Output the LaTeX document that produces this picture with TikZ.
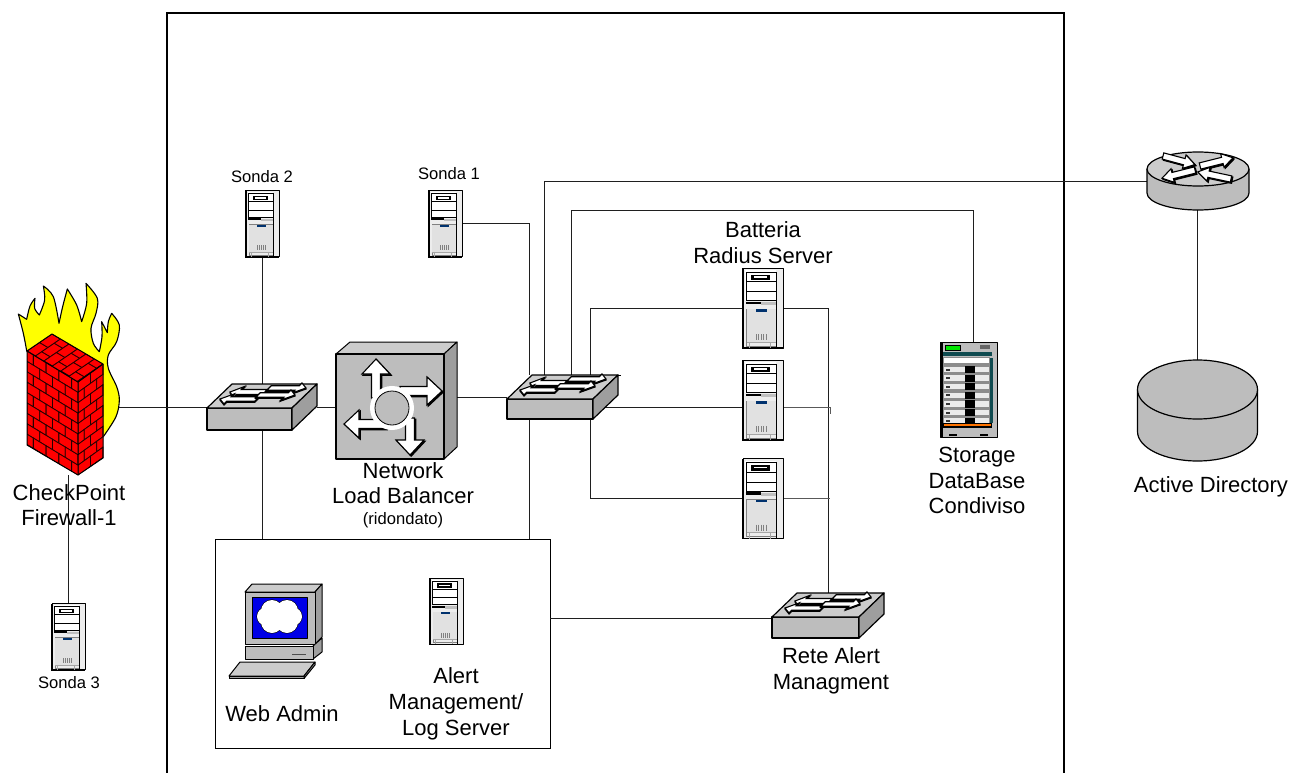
\documentclass[tikz,border=0pt]{standalone}
\usepackage{fontspec}
\setmainfont{Liberation Sans}
\usetikzlibrary{calc}
\definecolor{icongray}{gray}{0.74}
\definecolor{iconlight}{gray}{0.8}
\definecolor{icondark}{gray}{0.62}
\definecolor{srvlight}{gray}{0.93}
\definecolor{tealbar}{RGB}{15,75,80}
\definecolor{flameyellow}{RGB}{255,255,0}
\definecolor{scrblue}{RGB}{0,0,230}
\definecolor{connline}{gray}{0.12}
\definecolor{srvblue}{RGB}{0,50,110}
\tikzset{
  conn/.style={draw=connline,line width=0.85pt},
  iconbox/.style={anchor=north west,inner sep=0pt,outer sep=0pt},
  face/.style={draw=black,line width=1pt,line join=round},
  brick/.style={fill=red,draw=black!85!red,line width=0.8pt},
  bigtext/.style={font=\fontsize{22}{25.7}\selectfont,align=center,inner sep=0pt},
  smalltext/.style={font=\fontsize{16.6}{19}\selectfont,align=center,inner sep=0pt},
  wharrow/.style={fill=white,draw=black,line width=1.1pt,line join=miter},
  sharrow/.style={fill=black,draw=black,line width=1.1pt,line join=miter}
}
% arrow: x y angle length headhalf shafthalf headlen
\newcommand\iconarrow[7]{%
  \begin{scope}[shift={(#1+1.2,#2+1.2)},rotate=#3]
    \draw[sharrow] (0,-#6) -- ({#4-#7},-#6) -- ({#4-#7},-#5) -- (#4,0) -- ({#4-#7},#5) -- ({#4-#7},#6) -- (0,#6) -- cycle;
  \end{scope}
  \begin{scope}[shift={(#1,#2)},rotate=#3]
    \draw[wharrow] (0,-#6) -- ({#4-#7},-#6) -- ({#4-#7},-#5) -- (#4,0) -- ({#4-#7},#5) -- ({#4-#7},#6) -- (0,#6) -- cycle;
  \end{scope}}
% skewed arrow on a switch top: cx cy dir(1/-1) length halfheight
\newcommand\skewarrow[5]{%
  \begin{scope}[shift={(#1,#2+1)},xslant=1]
    \begin{scope}[xscale=#3]
      \draw[sharrow] (-#4/2,-#5*.45) -- (#4/2-9,-#5*.45) -- (#4/2-9,-#5) -- (#4/2,0) -- (#4/2-9,#5) -- (#4/2-9,#5*.45) -- (-#4/2,#5*.45) -- cycle;
    \end{scope}
  \end{scope}
  \begin{scope}[shift={(#1,#2)},xslant=1]
    \begin{scope}[xscale=#3]
      \draw[wharrow] (-#4/2,-#5*.45) -- (#4/2-9,-#5*.45) -- (#4/2-9,-#5) -- (#4/2,0) -- (#4/2-9,#5) -- (#4/2-9,#5*.45) -- (-#4/2,#5*.45) -- cycle;
    \end{scope}
  \end{scope}}
% switch: x1 x2 (front) ytop ybot, dx back, dy back
\newcommand\switchicon[6]{%
  \fill[iconlight] (#1,#3) -- (#1+#5,#3-#6) -- (#2+#5,#3-#6) -- (#2,#3) -- cycle;
  \draw[face,fill=icongray,line width=1.2pt] (#1,#3) rectangle (#2,#4);
  \draw[face,fill=iconlight,line width=1.2pt] (#1,#3) -- (#1+#5,#3-#6) -- (#2+#5,#3-#6) -- (#2,#3) -- cycle;
  \draw[face,fill=icondark,line width=1.2pt] (#2,#3) -- (#2+#5,#3-#6) -- (#2+#5,#4-#6) -- (#2,#4) -- cycle;
  \skewarrow{#1+40.5}{#3-16}{-1}{35}{5.5}
  \skewarrow{#1+80.5}{#3-20}{1}{37}{5}
  \skewarrow{#1+31.5}{#3-9}{-1}{37}{5}
  \skewarrow{#1+69.5}{#3-13}{1}{37}{5}
}
\newcommand\servericon[3]{%
  \begin{scope}[shift={(#1,#2)},scale=#3]
    \draw[face,fill=srvlight] (0,0) rectangle (40,80);
    \draw[black,line width=1.4pt] (0,0) -- (0,80) -- (40,80);
    \fill[white] (2,2) rectangle (33,33);
    \draw[black,line width=1pt] (3.5,4) rectangle (33,32.5);
    \draw[black,line width=.9pt] (3.5,13.5) -- (33,13.5) (3.5,23.5) -- (33,23.5);
    \fill[black] (8,6.5) rectangle (27,12);
    \fill[white] (11,8.2) rectangle (24,9.8);
    \fill[black] (3,33.5) rectangle (18,36);
    \fill[gray!50] (18,34) rectangle (33,37);
    \draw[gray,line width=.5pt] (3.5,41) rectangle (33,78);
    \fill[srvlight!95!black] (3.5,41) rectangle (33,74);
    \draw[black,line width=.8pt] (33,33) -- (33,80);
    \fill[srvblue] (13,41) rectangle (24,43.5);
    \foreach \vx in {13,15.5,...,23}{\draw[gray,line width=.5pt] (\vx,66) -- (\vx,72);}
    \draw[gray!70,line width=.7pt] (6,74) -- (6,80) (27,74) -- (27,80) (3.5,74) -- (33,74);
  \end{scope}}
\begin{document}
\begin{tikzpicture}[x=1pt,y=-1pt]
\useasboundingbox (0,0) rectangle (1291,773);
% layout holders
\node[iconbox,minimum width=101pt,minimum height=191pt] (fw) at (18,284) {};
\node[iconbox,minimum width=110pt,minimum height=46pt] (swA) at (207,384) {};
\node[iconbox,minimum width=111pt,minimum height=44pt] (swB) at (507,375) {};
\node[iconbox,minimum width=111pt,minimum height=45pt] (swC) at (772,593) {};
\node[iconbox,minimum width=121pt,minimum height=117pt] (lb) at (336,342) {};
\node[iconbox,minimum width=33pt,minimum height=66pt] (sonda2) at (246,190.5) {};
\node[iconbox,minimum width=33pt,minimum height=66pt] (sonda1) at (429,190.5) {};
\node[iconbox,minimum width=33pt,minimum height=66pt] (sonda3) at (52,603.5) {};
\node[iconbox,minimum width=40pt,minimum height=80pt] (srvA) at (743,268) {};
\node[iconbox,minimum width=40pt,minimum height=80pt] (srvB) at (743,360) {};
\node[iconbox,minimum width=40pt,minimum height=80pt] (srvC) at (743,458.5) {};
\node[iconbox,minimum width=57pt,minimum height=95pt] (stor) at (940,342) {};
\node[iconbox,minimum width=101pt,minimum height=58pt] (rt) at (1147,152) {};
\node[iconbox,minimum width=120pt,minimum height=101pt] (disk) at (1137.5,360) {};
\node[iconbox,draw=black,line width=.85pt,minimum width=335pt,minimum height=209pt] (abox) at (215,539) {};
% bend points
\coordinate (bRt) at (544,181);
\coordinate (bSt) at (571,210);
\coordinate (bStR) at (973,210);
\coordinate (bS1) at (529,223.5);
\coordinate (bA) at (590,308);
\coordinate (bAr) at (828,308);
\coordinate (bC) at (590,498);
\coordinate (bBr) at (830,407);
\coordinate (bBt) at (830,414);
\coordinate (bCr) at (830,498);
\coordinate (pLbA) at (457,397);
\coordinate (pBoxC) at (550,618);
\coordinate (pSwCb) at (772,618);
\coordinate (pSwBr) at (600,407);
\coordinate (pSrvB) at (743,407);
\coordinate (pSrvBr) at (783,407);
\coordinate (pSrvCr) at (783,498);
\coordinate (pFw) at (110,407);
% frame
\draw[black,line width=2pt] (167,773) -- (167,13) -- (1064,13) -- (1064,773);
% connectors
\draw[conn] (pFw) -- (swA.west);
\draw[conn] (swA.east) -- (swA.east -| lb.west);
\draw[conn] (sonda2.south -| swA.north) -- (swA.north);
\draw[conn] (swA.south) -- (swA.south |- abox.north);
\draw[conn] (pLbA) -- (swB.west);
\draw[conn] (sonda1.east |- bS1) -- (bS1) -- (bS1 |- swB.north);
\draw[conn] (bS1 |- swB.south) -- (bS1 |- abox.north);
\draw[conn] (rt.west) -- (bRt) -- (bRt |- swB.north);
\draw[conn] (stor.north -| bStR) -- (bStR) -- (bSt) -- (bSt |- swB.north);
\draw[conn] (srvA.west) -- (bA) -- (bA |- swB.north);
\draw[conn] (bA |- swB.south) -- (bC) -- (srvC.west |- bC);
\draw[conn] (pSwBr) -- (pSrvB);
\draw[conn] (srvA.east) -- (bAr) -- (bAr |- swC.north);
\draw[conn,draw=black!65] (pSrvBr) -- (bBr) -- (bBt);
\draw[conn,draw=black!65] (pSrvCr) -- (bCr);
\draw[conn] (pBoxC) -- (pSwCb);
\draw[conn] (rt.south -| disk.north) -- (disk.north);
\draw[conn] (fw.south) -- (sonda3.north);
% firewall flames
\begin{scope}[shift={(10,280)},scale=1/3]
  \draw[fill=flameyellow,draw=black,line width=1.1pt,line join=round]
   plot[smooth,tension=.55] coordinates {(50,212) (40,160) (25,102)}
   -- plot[smooth,tension=.55] coordinates {(25,102) (50,118)}
   -- plot[smooth,tension=.55] coordinates {(50,118) (60,78) (75,55)}
   -- plot[smooth,tension=.55] coordinates {(75,55) (74,85) (88,105)}
   -- plot[smooth,tension=.55] coordinates {(88,105) (104,60) (100,18)}
   -- plot[smooth,tension=.55] coordinates {(100,18) (130,50) (147,130)}
   -- plot[smooth,tension=.55] coordinates {(147,130) (158,80) (172,27)}
   -- plot[smooth,tension=.55] coordinates {(172,27) (200,75) (215,125)}
   -- plot[smooth,tension=.55] coordinates {(215,125) (230,70) (228,10)}
   -- plot[smooth,tension=.55] coordinates {(228,10) (262,55) (258,100) (243,145) (250,190) (268,215)}
   -- plot[smooth,tension=.55] coordinates {(268,215) (276,170) (275,125)}
   -- plot[smooth,tension=.55] coordinates {(275,125) (292,158)}
   -- plot[smooth,tension=.55] coordinates {(292,158) (295,125) (305,100)}
   -- plot[smooth,tension=.55] coordinates {(305,100) (328,135) (320,185) (295,225) (295,265) (320,320) (328,360) (318,410) (280,470)}
   -- (200,470) -- cycle;
\end{scope}
% firewall bricks: left face
\begin{scope}
  \clip (27,351) -- (78,382) -- (78,475) -- (27,445) -- cycle;
  \fill[red] (27,351) -- (78,382) -- (78,475) -- (27,445) -- cycle;
  \begin{scope}[shift={(27,351)},x={(12.75pt,-7.75pt)},y={(0pt,-10.4pt)}]
    \foreach \rr in {0,...,9}{
      \pgfmathsetmacro\off{mod(\rr,2)*0.5}
      \foreach \cc in {-1,...,4}{
        \draw[brick] ({\cc+\off-.5},\rr) -- ++(1,0) -- ++(0,1) -- ++(-1,0) -- cycle;
      }}
  \end{scope}
\end{scope}
% right face
\begin{scope}
  \clip (78,382) -- (103,364) -- (103,458) -- (78,475) -- cycle;
  \fill[red] (78,382) -- (103,364) -- (103,458) -- (78,475) -- cycle;
  \begin{scope}[shift={(78,382)},x={(12.5pt,9pt)},y={(0pt,-10.4pt)}]
    \foreach \rr in {0,...,9}{
      \pgfmathsetmacro\off{mod(\rr,2)*0.5}
      \foreach \cc in {-1,...,2}{
        \draw[brick] ({\cc+\off},\rr) -- ++(1,0) -- ++(0,1) -- ++(-1,0) -- cycle;
      }}
  \end{scope}
\end{scope}
% top face
\begin{scope}
  \clip (27,351) -- (52,334) -- (103,364) -- (78,382) -- cycle;
  \fill[red] (27,351) -- (52,334) -- (103,364) -- (78,382) -- cycle;
  \begin{scope}[shift={(27,351)},x={(8.5pt,-5pt)},y={(12.5pt,8.5pt)}]
    \foreach \cc in {0,...,6}{
      \pgfmathsetmacro\off{mod(\cc,2)*0.5}
      \foreach \rr in {-1,...,3}{
        \draw[brick] (\cc,{\rr+\off}) -- ++(1,0) -- ++(0,1) -- ++(-1,0) -- cycle;
      }}
  \end{scope}
\end{scope}
\draw[face] (27,351) -- (52,334) -- (103,364) -- (103,458) -- (78,475) -- (27,445) -- cycle;
\draw[face] (27,351) -- (78,382) -- (103,364) (78,382) -- (78,475);
% switches
\switchicon{207}{292}{408}{430}{25}{24}
\switchicon{507}{593}{399}{419}{25}{24}
\draw[black,line width=.8pt] (618,375) -- (621,375);
\switchicon{772}{859}{617}{638}{25}{24}
% load balancer
\draw[face,fill=iconlight] (336,354) -- (350,342) -- (457,342) -- (444,354) -- cycle;
\draw[face,fill=icondark] (444,354) -- (457,342) -- (457,447) -- (444,459) -- cycle;
\draw[face,fill=icongray,line width=1.2pt] (336,354) rectangle (444,459);
\iconarrow{376}{398}{90}{39}{14}{4.5}{15}
\iconarrow{400}{391}{0}{42}{14}{4.5}{15}
\iconarrow{386}{424}{180}{42}{14}{4.5}{15}
\iconarrow{410}{418}{-90}{37}{14}{4.5}{15}
\draw[draw=white,fill=icongray,line width=5pt] (392,408) circle (19.5);
\draw[black,line width=.8pt] (392,408) circle (17);
% servers
\servericon{246}{190.5}{.83}
\servericon{429}{190.5}{.83}
\servericon{52}{603.5}{.83}
\servericon{743}{268}{1}
\servericon{743}{360}{1}
\servericon{743}{458.5}{1}
\servericon{430}{578}{.83}
% storage
\draw[face,fill=icongray] (940,342) rectangle (997,437);
\fill[black] (940,342) rectangle (943,437);
\draw[black,line width=.7pt,fill=green!90!black] (945,345.5) rectangle (960,350);
\fill[black!60] (980,344.5) rectangle (990,349);
\fill[tealbar] (943,352) rectangle (992,356);
\fill[black!45] (943,357) rectangle (990,423);
\fill[tealbar] (990,358) rectangle (993,423);
\fill[white] (944,358) rectangle (989,363);
\foreach \rw in {0,...,6}{
  \fill[white!92!black] (944,{366.7+8.6*\rw}) rectangle (989,{372.2+8.6*\rw});
  \fill[black] (964.5,{366+8.6*\rw}) rectangle (975,{373.2+8.6*\rw});
  \fill[black!80] (946,{368.5+8.6*\rw}) rectangle (950,{370.5+8.6*\rw});
}
\fill[black] (943,422.5) rectangle (992,428);
\fill[orange!90!red] (944,423.5) rectangle (991,426);
\fill[black] (949,434) rectangle (957,436);
\fill[black] (980,434) rectangle (988,436);
% router
\draw[face,fill=icongray,line width=1.2pt] (1147,169) -- (1147,193) arc[start angle=180,end angle=0,x radius=51,y radius=17] -- (1249,169);
\draw[face,fill=iconlight,line width=1.2pt] (1198,169) ellipse [x radius=51,y radius=17];
\iconarrow{1163}{156}{-15}{33}{7}{3.2}{11}
\iconarrow{1200}{166}{14}{34}{7}{3.2}{11}
\iconarrow{1195}{170}{194}{34}{7}{3.2}{11}
\iconarrow{1231}{179}{168}{34}{7}{3.2}{11}
% disk
\draw[face,fill=icongray,line width=1.2pt] (1137.5,389.5) -- (1137.5,431.5) arc[start angle=180,end angle=0,x radius=60,y radius=29.5] -- (1257.5,389.5);
\draw[face,fill=icongray,line width=1.2pt] (1197.5,389.5) ellipse [x radius=60,y radius=29.5];
% computer
\draw[face,fill=iconlight] (245,592) -- (252,584) -- (322,584) -- (315,592) -- cycle;
\draw[face,fill=icondark] (315,592) -- (322,584) -- (322,637) -- (315,644) -- cycle;
\draw[face,fill=icongray] (245,592) rectangle (315,644);
\draw[face,fill=scrblue] (252,597) rectangle (307,638);
\foreach \cx/\cy/\cw in {272/611/11,287/611/11,272/622/11,287/622/11,266/616.5/9,293/616.5/9}{
  \draw[black,line width=1.1pt] (\cx,\cy) circle (\cw);}
\foreach \cx/\cy/\cw in {272/611/11,287/611/11,272/622/11,287/622/11,266/616.5/9,293/616.5/9}{
  \fill[white] (\cx,\cy) circle (\cw);}
\draw[face,fill=icondark] (313,646) -- (322,638) -- (322,652) -- (313,659) -- cycle;
\draw[face,fill=icongray] (245,646) rectangle (313,659);
\draw[black!70,line width=1pt] (292,654) -- (306,654);
\draw[face,fill=iconlight] (240,662) -- (315,662) -- (304,676) -- (229,676) -- cycle;
\draw[face,fill=icondark] (229,676) -- (304,676) -- (304,678.5) -- (229,678.5) -- cycle;
\draw[face,fill=icondark] (304,676) -- (315,662) -- (315,665) -- (304,678.5) -- cycle;
% labels
\node[smalltext] (tS2) at (262,177) {Sonda 2};
\node[smalltext] (tS1) at (449,173.5) {Sonda 1};
\node[smalltext] (tS3) at (69,682.5) {Sonda 3};
\node[smalltext] (tRid) at (403,520) {(ridondato)};
\node[bigtext] (tFw) at (69,505) {CheckPoint\\Firewall-1};
\node[bigtext] (tLb) at (403,483) {Network\\Load Balancer};
\node[bigtext] (tBat) at (763,242.5) {Batteria\\Radius Server};
\node[bigtext] (tSt) at (977,480.5) {Storage\\DataBase\\Condiviso};
\node[bigtext] (tAd) at (1211,487) {Active Directory};
\node[bigtext] (tWeb) at (282,714) {Web Admin};
\node[bigtext] (tAl) at (456,704) {Alert\\Management/\\Log Server};
\node[bigtext] (tRe) at (831,671) {Rete Alert\\Managment};
\end{tikzpicture}
\end{document}
